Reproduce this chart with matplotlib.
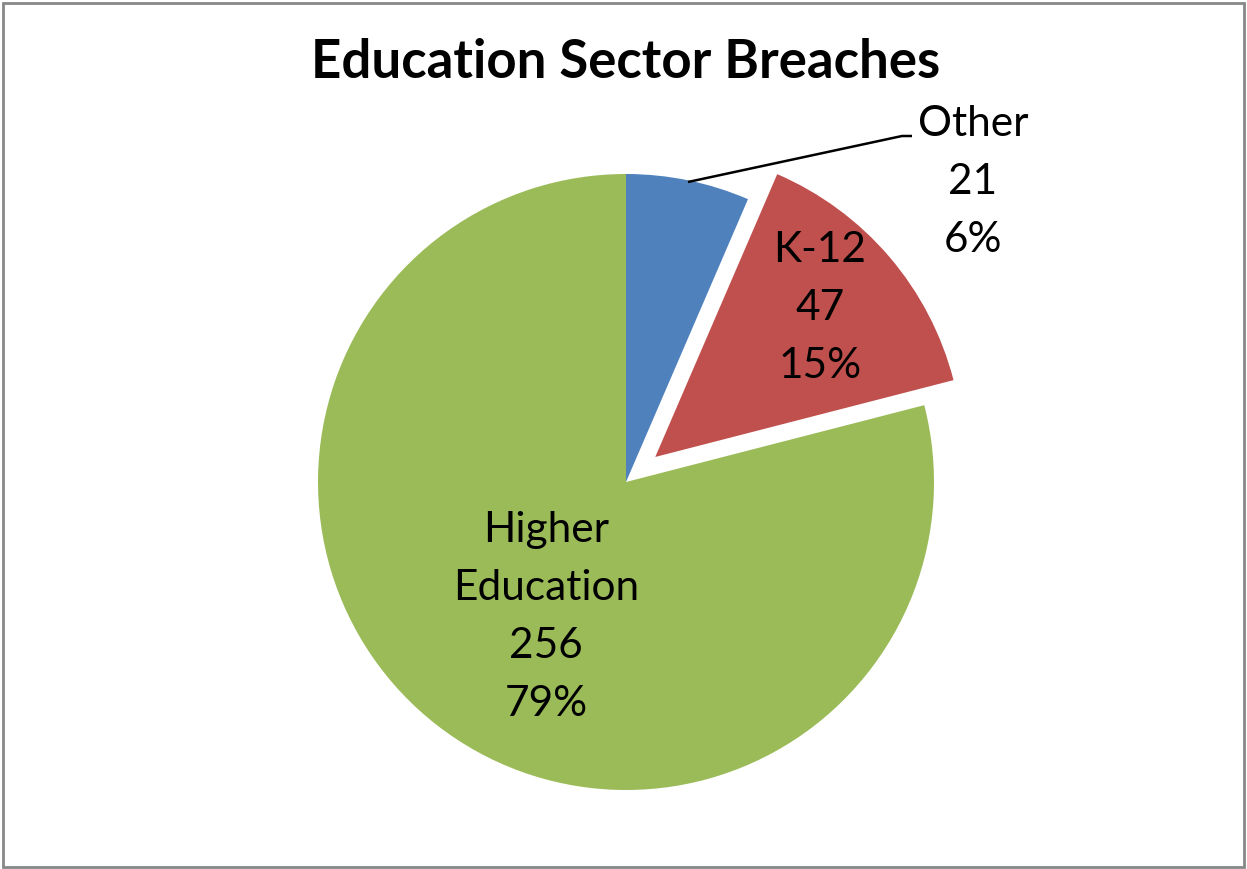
import matplotlib
matplotlib.use("Agg")
import matplotlib.pyplot as plt
from matplotlib.patches import Rectangle

categories = ["Other", "K-12", "Higher\nEducation"]
values = [21, 47, 256]
percent_labels = ["6%", "15%", "79%"]
colors = ["#4F81BD", "#C0504D", "#9BBB59"]
explode_frac = [0, 0.125, 0]

W, H = 1247, 869
fig = plt.figure(figsize=(W / 100, H / 100), dpi=100)
ax = fig.add_axes([0, 0, 1, 1])

font = "Lato"
cx, cy, r = 626, H - 482, 308
ax.pie(values, colors=colors, startangle=90, counterclock=False,
       radius=r, center=(cx, cy), explode=[e * r for e in explode_frac],
       wedgeprops=dict(linewidth=0), frame=True)
ax.set_xlim(0, W)
ax.set_ylim(0, H)
ax.set_aspect("equal")
ax.axis("off")

labels = [f"{c}\n{v}\n{p}" for c, v, p in zip(categories, values, percent_labels)]
label_pos = [(973, H - 182), (820, H - 308), (546, H - 617)]
for lab, (x, y) in zip(labels, label_pos):
    ax.text(x, y, lab, ha="center", va="center", fontsize=30.5,
            family=font, linespacing=1.65, color="black")

# leader line for Other
ax.plot([688, 902, 912], [H - 182, H - 136, H - 136], color="black", lw=1.8,
        solid_capstyle="butt")

ax.text(626, H - 62, "Education Sector Breaches", ha="center", va="center",
        fontsize=38, fontweight="bold", family=font, color="black")

fig.patches.append(Rectangle((3 / W, 2 / H), 1241 / W, 864 / H, transform=fig.transFigure,
                             fill=False, edgecolor="#888888", linewidth=2))

fig.savefig("out.png", dpi=100, facecolor="white")
